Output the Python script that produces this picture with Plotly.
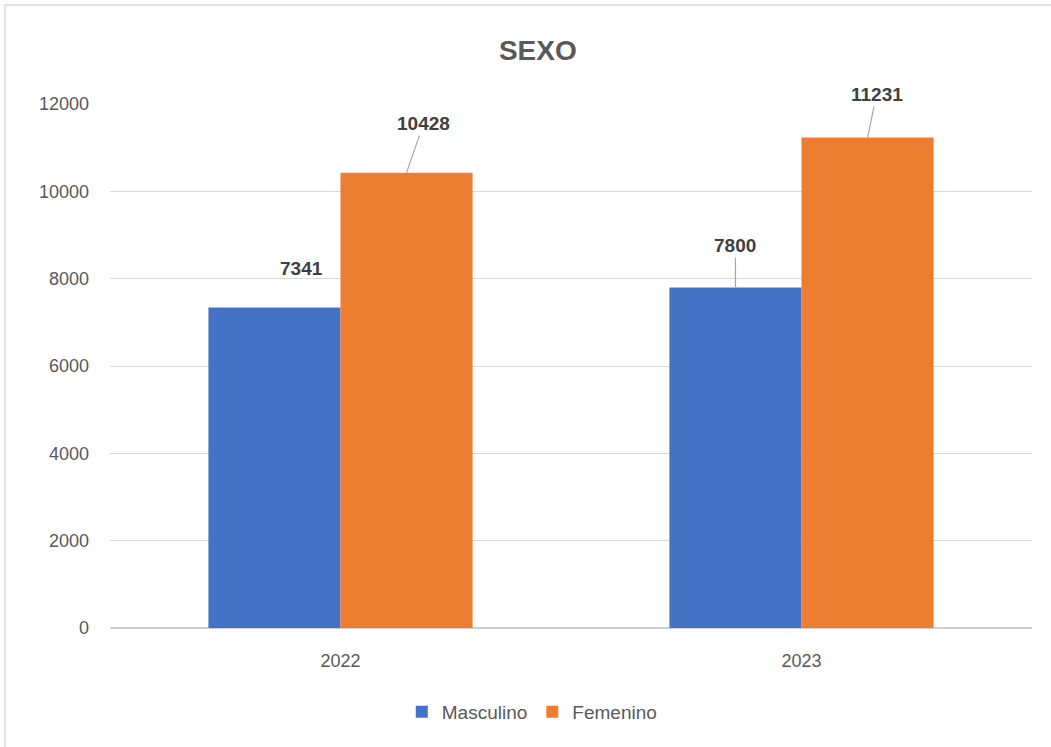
import plotly.graph_objects as go

years = ["2022", "2023"]
masculino = [7341, 7800]
femenino = [10428, 11231]
y_ticks = [0, 2000, 4000, 6000, 8000, 10000, 12000]
y_tick_labels = ["0", "2000", "4000", "6000", "8000", "10000", "12000"]

FONT = "Liberation Sans"
x_pos = list(range(len(years)))

fig = go.Figure()
fig.add_trace(go.Bar(x=x_pos, y=masculino, name="Masculino", marker_color="#4472C4",
                     marker_line_width=0))
fig.add_trace(go.Bar(x=x_pos, y=femenino, name="Femenino", marker_color="#ED7D31",
                     marker_line_width=0))

bargap = 0.427
half = (1 - bargap) / 4

# label offsets (px): (dx, dy, arrow)
m_offsets = [(27, -39, False), (0, -42, True)]
f_offsets = [(17, -49, True), (9, -43, True)]

for i in x_pos:
    for val, sign, (dx, dy, arrow) in [(masculino[i], -1, m_offsets[i]), (femenino[i], 1, f_offsets[i])]:
        xc = i + sign * half
        if arrow:
            fig.add_annotation(x=xc, y=val, text=f"<b>{val}</b>", showarrow=True, arrowhead=0,
                               arrowwidth=1.2, arrowcolor="#a6a6a6", ax=dx, ay=dy,
                               font=dict(family=FONT, size=19, color="#404040"), standoff=0)
        else:
            fig.add_annotation(x=xc, y=val, text=f"<b>{val}</b>", showarrow=False,
                               xshift=dx, yshift=-dy,
                               font=dict(family=FONT, size=19, color="#404040"))

# chart border
fig.add_shape(type="rect", xref="paper", yref="paper", x0=-0.1139, x1=1.06, y0=-0.26, y1=1.189,
              line=dict(color="#d9d9d9", width=1.5), fillcolor="rgba(0,0,0,0)", layer="below")

fig.update_layout(
    width=1051, height=747,
    margin=dict(l=110, r=19, t=104, b=119),
    paper_bgcolor="white", plot_bgcolor="white",
    barmode="group", bargap=bargap, bargroupgap=0,
    title=dict(text="<b>SEXO</b>", x=0.464, xref="paper", xanchor="center",
               y=1 - 50 / 747, yanchor="middle",
               font=dict(family=FONT, size=28, color="#595959")),
    font=dict(family=FONT, size=18, color="#595959"),
    showlegend=True,
    legend=dict(orientation="h", x=0.458, xanchor="center", y=-0.16, yanchor="middle",
                font=dict(family=FONT, size=19, color="#595959"), itemwidth=30,
                traceorder="normal"),
    xaxis=dict(range=[-0.5, 1.5], tickvals=x_pos, ticktext=years, showgrid=False,
               zeroline=False, showline=False, ticks="", ticklabelstandoff=20,
               fixedrange=True),
    yaxis=dict(range=[0, 12000], tickvals=y_ticks, ticktext=y_tick_labels, showgrid=True,
               gridcolor="#d9d9d9", gridwidth=1, zeroline=True, zerolinecolor="#d0d0d0",
               zerolinewidth=1.5, showline=False, ticks="", ticklabelstandoff=20,
               fixedrange=True),
)

fig.write_html("out.html", config={"displayModeBar": False},
               post_script="document.body.style.margin='0px';")
